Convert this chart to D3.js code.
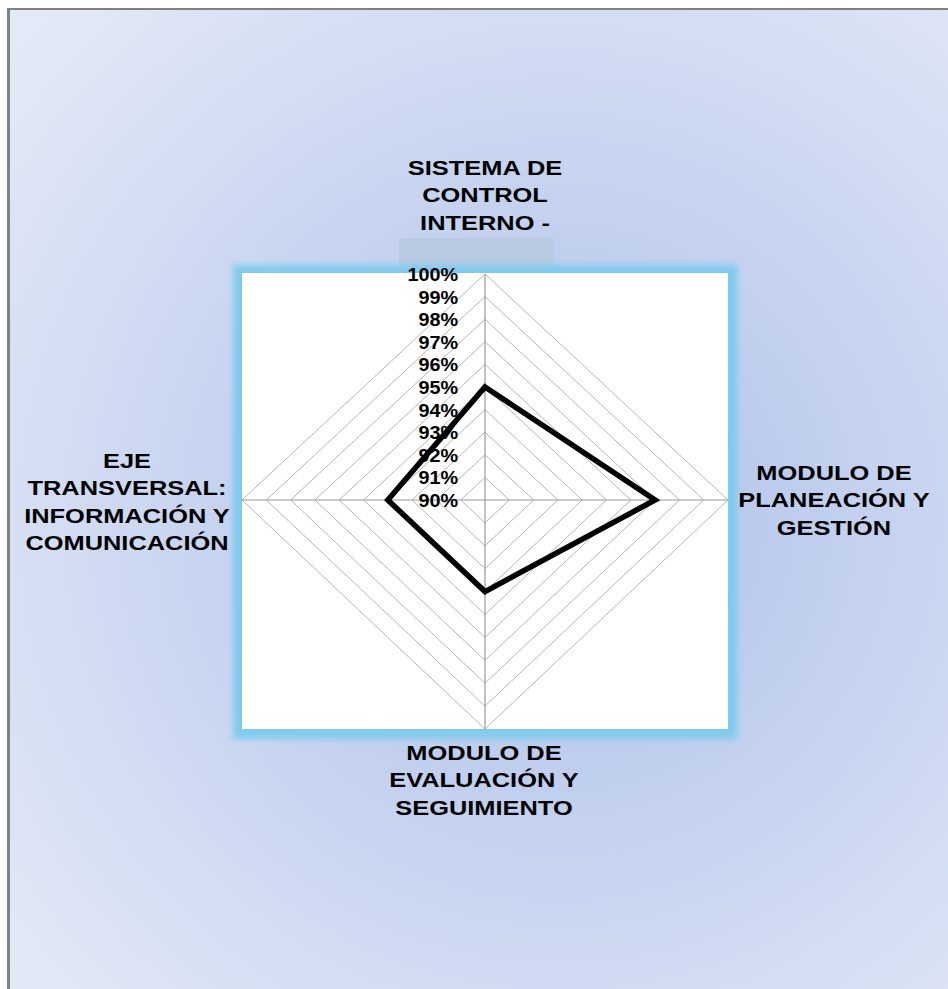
<!DOCTYPE html>
<html>
<head>
<meta charset="utf-8">
<script src="https://cdn.jsdelivr.net/npm/d3@7"></script>
<style>
  body { margin: 0; background: #fff; }
  text { font-family: "Liberation Sans", Arial, sans-serif; font-weight: bold; fill: #000; }
</style>
</head>
<body>
<div id="chart"></div>
<script>
// chart data
var categories = [
  ["SISTEMA DE", "CONTROL", "INTERNO -"],
  ["MODULO DE", "PLANEACIÓN Y", "GESTIÓN"],
  ["MODULO DE", "EVALUACIÓN Y", "SEGUIMIENTO"],
  ["EJE", "TRANSVERSAL:", "INFORMACIÓN Y", "COMUNICACIÓN"]
];
var values = [0.95, 0.97, 0.94, 0.94];
var tickValues = [0.90, 0.91, 0.92, 0.93, 0.94, 0.95, 0.96, 0.97, 0.98, 0.99, 1.00];
var tickLabels = ["90%", "91%", "92%", "93%", "94%", "95%", "96%", "97%", "98%", "99%", "100%"];

var svgWidth = 948;
var svgHeight = 989;

var cx = 485, cy = 500;
var rx = 243, ry = 226;

var svg = d3.select("#chart")
  .append("svg")
  .attr("width", svgWidth)
  .attr("height", svgHeight);

var defs = svg.append("defs");

var bg = defs.append("radialGradient")
  .attr("id", "bg")
  .attr("gradientUnits", "userSpaceOnUse")
  .attr("cx", 560).attr("cy", 520).attr("r", 720);
bg.append("stop").attr("offset", "0%").attr("stop-color", "#adc0ea");
bg.append("stop").attr("offset", "100%").attr("stop-color", "#e3e9f6");

defs.append("filter")
  .attr("id", "glow")
  .attr("x", "-10%").attr("y", "-10%").attr("width", "120%").attr("height", "120%")
  .append("feGaussianBlur")
  .attr("stdDeviation", 3);

// chart area background + frame
svg.append("rect")
  .attr("x", 8).attr("y", 8)
  .attr("width", svgWidth - 8).attr("height", svgHeight - 8)
  .attr("fill", "url(#bg)");
svg.append("rect")
  .attr("x", 7).attr("y", 8).attr("width", 3).attr("height", svgHeight - 8)
  .attr("fill", "#808080");
svg.append("rect")
  .attr("x", 7).attr("y", 8).attr("width", svgWidth - 7).attr("height", 2)
  .attr("fill", "#808080");

// truncated label box above the plot
svg.append("rect")
  .attr("x", 399).attr("y", 238).attr("width", 155).attr("height", 30)
  .attr("fill", "#b9cbe3");

// plot area with blue glow
svg.append("rect")
  .attr("x", cx - rx - 9).attr("y", cy - ry - 9)
  .attr("width", 2 * rx + 18).attr("height", 2 * ry + 4 + 18)
  .attr("fill", "#7fcbee")
  .attr("filter", "url(#glow)");
svg.append("rect")
  .attr("x", cx - rx).attr("y", cy - ry - 1)
  .attr("width", 2 * rx).attr("height", 2 * ry + 4)
  .attr("fill", "#fff");

var r = d3.scaleLinear().domain([0.90, 1.00]).range([0, 1]);
var angles = categories.map((d, i) => i * Math.PI / 2);

function pt(a, v) {
  return [cx + Math.sin(a) * r(v) * rx, cy - Math.cos(a) * r(v) * (a > Math.PI / 2 && a < 3 * Math.PI / 2 ? ry + 3 : ry)];
}

var line = d3.line().curve(d3.curveLinearClosed);

// grid rings
svg.append("g").selectAll("path")
  .data(tickValues.slice(1))
  .enter()
  .append("path")
  .attr("d", v => line(angles.map(a => pt(a, v))))
  .attr("fill", "none")
  .attr("stroke", "#b6b6b6")
  .attr("stroke-width", 1);

// spokes
svg.append("g").selectAll("line")
  .data(angles)
  .enter()
  .append("line")
  .attr("x1", cx).attr("y1", cy)
  .attr("x2", a => pt(a, 1)[0])
  .attr("y2", a => pt(a, 1)[1])
  .attr("stroke", "#999")
  .attr("stroke-width", 1.2);

// tick labels along the vertical axis
svg.append("g").selectAll("text")
  .data(tickValues)
  .enter()
  .append("text")
  .attr("transform", v => `translate(458, ${pt(0, v)[1] + 7}) scale(1.1, 1)`)
  .attr("text-anchor", "end")
  .style("font-size", "18px")
  .text((v, i) => tickLabels[i]);

// data series
svg.append("path")
  .attr("d", line(angles.map((a, i) => pt(a, values[i]))))
  .attr("fill", "none")
  .attr("stroke", "#000")
  .attr("stroke-width", 5.5)
  .attr("stroke-linejoin", "miter");

// category labels
var labelPos = [
  { x: 485, y: 175 },
  { x: 834, y: 480 },
  { x: 484, y: 760 },
  { x: 127, y: 468 }
];
var lineGap = 27.3;

categories.forEach((lines, i) => {
  var g = svg.append("g");
  g.selectAll("text")
    .data(lines)
    .enter()
    .append("text")
    .attr("transform", (d, j) => `translate(${labelPos[i].x}, ${labelPos[i].y + j * lineGap}) scale(1.24, 1)`)
    .attr("text-anchor", "middle")
    .style("font-size", "20.5px")
    .text(d => d);
});
</script>
</body>
</html>
